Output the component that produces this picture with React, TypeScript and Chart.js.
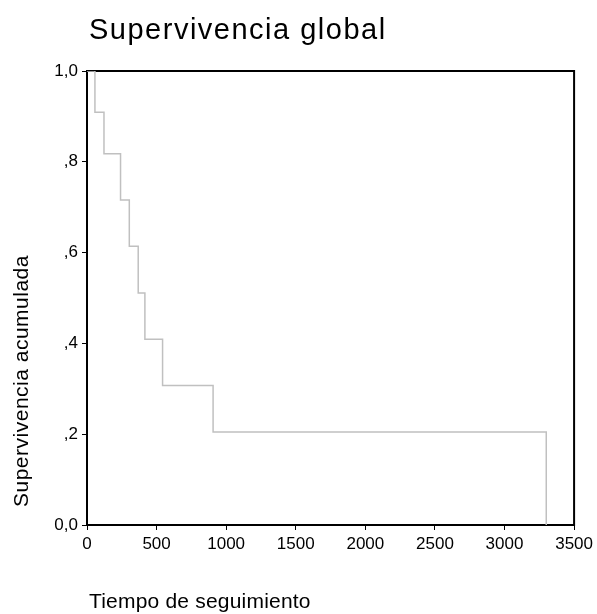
import React, { useEffect, useRef } from "react";
import { Chart, registerables } from "chart.js";

Chart.register(...registerables);

// Kaplan-Meier step points (time in days, cumulative survival)
const times = [0, 57, 122, 241, 304, 368, 416, 543, 906, 3300];
const survival = [1, 0.909, 0.818, 0.716, 0.614, 0.511, 0.409, 0.307, 0.205, 0];

const xTicks = [0, 500, 1000, 1500, 2000, 2500, 3000, 3500];
const yTickLabels: Record<string, string> = {
  "0": "0,0",
  "0.2": ",2",
  "0.4": ",4",
  "0.6": ",6",
  "0.8": ",8",
  "1": "1,0",
};

const chartTitle = "Supervivencia global";
const xTitle = "Tiempo de seguimiento";
const yTitle = "Supervivencia acumulada";

const FONT = "'Liberation Sans', Arial, sans-serif";

const framePlugin = {
  id: "frame",
  beforeDatasetsDraw(chart: any) {
    const { ctx, chartArea } = chart;
    ctx.save();
    ctx.strokeStyle = "#000";
    ctx.lineWidth = 2;
    ctx.strokeRect(
      chartArea.left,
      chartArea.top,
      chartArea.right - chartArea.left,
      chartArea.bottom - chartArea.top
    );
    ctx.restore();
  },
  afterDraw(chart: any) {
    const { ctx, chartArea } = chart;
    ctx.save();
    ctx.fillStyle = "#000";
    ctx.textBaseline = "alphabetic";
    ctx.textAlign = "left";
    // main title
    ctx.font = `29px ${FONT}`;
    (ctx as any).letterSpacing = "1.5px";
    ctx.fillText(chartTitle, chartArea.left + 2, 39);
    // x title
    ctx.font = `21px ${FONT}`;
    (ctx as any).letterSpacing = "0.2px";
    ctx.fillText(xTitle, chartArea.left + 2, 608);
    // y title
    (ctx as any).letterSpacing = "0.5px";
    ctx.translate(28, chartArea.bottom - 18);
    ctx.rotate(-Math.PI / 2);
    ctx.fillText(yTitle, 0, 0);
    ctx.restore();
  },
};

export default function App() {
  const ref = useRef<HTMLCanvasElement>(null);

  useEffect(() => {
    if (!ref.current) return;
    const chart = new Chart(ref.current, {
      type: "line",
      data: {
        datasets: [
          {
            data: times.map((t, i) => ({ x: t, y: survival[i] })),
            stepped: true,
            borderColor: "#c0c0c0",
            borderWidth: 1.5,
            pointRadius: 0,
            fill: false,
          },
        ],
      },
      options: {
        responsive: false,
        animation: false,
        devicePixelRatio: 1,
        layout: { padding: { top: 71, right: 22, left: 0, bottom: 0 } },
        plugins: {
          legend: { display: false },
          tooltip: { enabled: false },
          title: { display: false },
        },
        scales: {
          x: {
            type: "linear",
            min: 0,
            max: 3500,
            afterFit: (s: any) => {
              s.height = 89;
            },
            afterBuildTicks: (s: any) => {
              s.ticks = xTicks.map((v) => ({ value: v }));
            },
            border: { display: false },
            grid: {
              drawOnChartArea: false,
              drawTicks: true,
              tickLength: 5,
              color: "#000",
              lineWidth: 1,
            },
            ticks: {
              color: "#000",
              padding: 4,
              maxRotation: 0,
              font: { family: FONT, size: 17 },
              callback: (v: any) => String(v),
            },
          },
          y: {
            min: 0,
            max: 1,
            afterFit: (s: any) => {
              s.width = 87;
            },
            border: { display: false },
            grid: {
              drawOnChartArea: false,
              drawTicks: true,
              tickLength: 5,
              color: "#000",
              lineWidth: 1,
            },
            ticks: {
              stepSize: 0.2,
              color: "#000",
              padding: 4,
              font: { family: FONT, size: 17 },
              callback: (v: any) => {
                const key = String(Math.round(Number(v) * 10) / 10);
                return yTickLabels[key] ?? "";
              },
            },
          },
        },
      },
      plugins: [framePlugin],
    });
    return () => chart.destroy();
  }, []);

  return (
    <div style={{ position: "fixed", left: 0, top: 0, width: 597, height: 614, background: "#fff" }}>
      <canvas ref={ref} width={597} height={614} />
    </div>
  );
}
